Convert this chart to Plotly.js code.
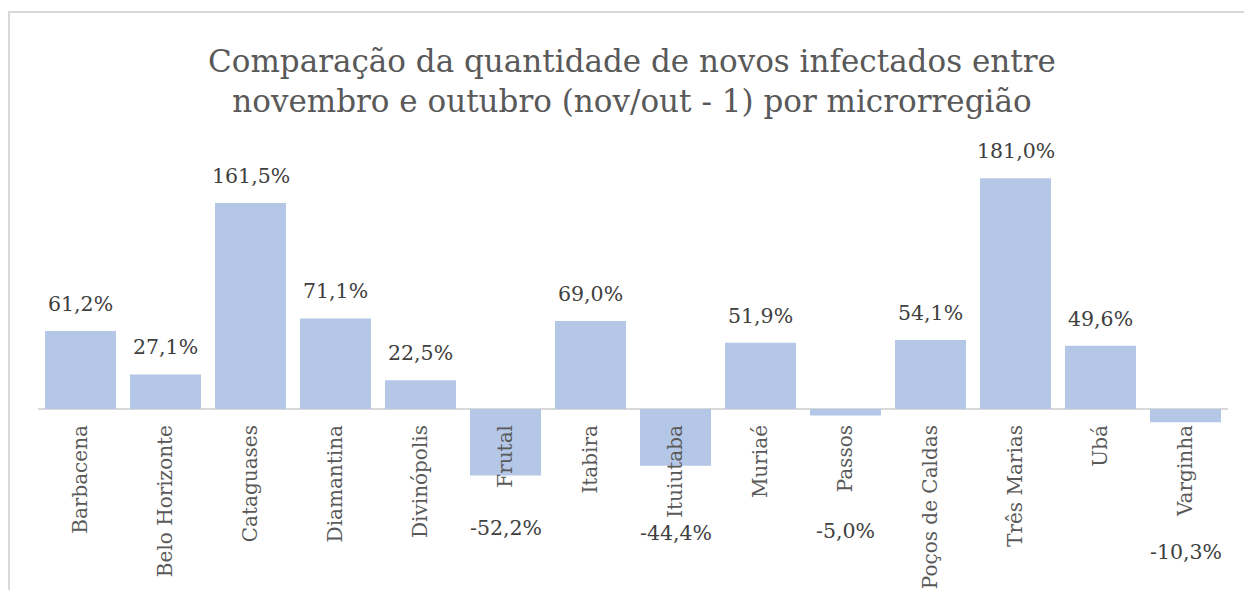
<!DOCTYPE html>
<html>
<head>
<meta charset="utf-8">
<script src="https://cdn.plot.ly/plotly-3.0.1.min.js"></script>
<style>
html,body{margin:0;padding:0;background:#fff;overflow:hidden;}
#chart{width:1244px;height:590px;}
</style>
</head>
<body>
<div id="chart"></div>
<script>
const categories = ["Barbacena","Belo Horizonte","Cataguases","Diamantina","Divinópolis","Frutal","Itabira","Ituiutaba","Muriaé","Passos","Poços de Caldas","Três Marias","Ubá","Varginha"];
const values = [61.2, 27.1, 161.5, 71.1, 22.5, -52.2, 69.0, -44.4, 51.9, -5.0, 54.1, 181.0, 49.6, -10.3];
const titleText = "Comparação da quantidade de novos infectados entre<br>novembro e outubro (nov/out - 1) por microrregião";

const FONT = "DejaVu Serif, Liberation Serif, serif";
const yRange = [-118.4, 211];
const W = 1244, H = 590, M = {l: 38, r: 16, t: 140, b: 30};

function fmt(v){ return v.toFixed(1).replace('.', ',') + '%'; }

// label offsets for negative labels (moved below category labels as in source)
const negShift = {"Frutal": -52, "Ituiutaba": -67, "Passos": -116, "Varginha": -130};

const annotations = categories.map((c, i) => {
  const v = values[i];
  return {
    x: c, y: v, xref: 'x', yref: 'y',
    text: fmt(v), showarrow: false,
    yanchor: 'middle', xanchor: 'center',
    yshift: v >= 0 ? 27 : (negShift[c] !== undefined ? negShift[c] : -30),
    font: {family: FONT, size: 20.5, color: '#404040'}
  };
});

// chart-area frame (top and left edges), converted from page pixels to paper coords
const pw = W - M.l - M.r, ph = H - M.t - M.b;
const px = p => (p - M.l) / pw;
const py = p => (H - M.b - p) / ph;
const frame = {
  type: 'path', xref: 'paper', yref: 'paper', layer: 'below',
  path: `M ${px(9)} ${py(600)} L ${px(9)} ${py(12)} L ${px(1260)} ${py(12)}`,
  line: {color: '#d9d9d9', width: 2}
};

const trace = {
  type: 'bar', x: categories, y: values,
  marker: {color: '#b4c7e7'},
  hoverinfo: 'x+y'
};

const layout = {
  width: W, height: H,
  margin: M,
  paper_bgcolor: '#ffffff', plot_bgcolor: 'rgba(0,0,0,0)',
  bargap: 0.165,
  showlegend: false,
  title: {
    text: titleText, x: 0.508, xanchor: 'center',
    y: 1 - 72/590, yanchor: 'middle', yref: 'container',
    font: {family: FONT, size: 31, color: '#595959'}
  },
  xaxis: {
    type: 'category', anchor: 'free',
    position: (0 - yRange[0]) / (yRange[1] - yRange[0]),
    tickangle: -90, showline: false, showgrid: false, ticks: '',
    ticklabelstandoff: 11,
    tickfont: {family: FONT, size: 20, color: '#595959'}
  },
  yaxis: {
    range: yRange, showticklabels: false, showgrid: false, ticks: '',
    zeroline: true, zerolinecolor: '#d9d9d9', zerolinewidth: 2, fixedrange: true
  },
  shapes: [frame],
  annotations: annotations
};

Plotly.newPlot('chart', [trace], layout, {displayModeBar: false, staticPlot: true});
</script>
</body>
</html>
